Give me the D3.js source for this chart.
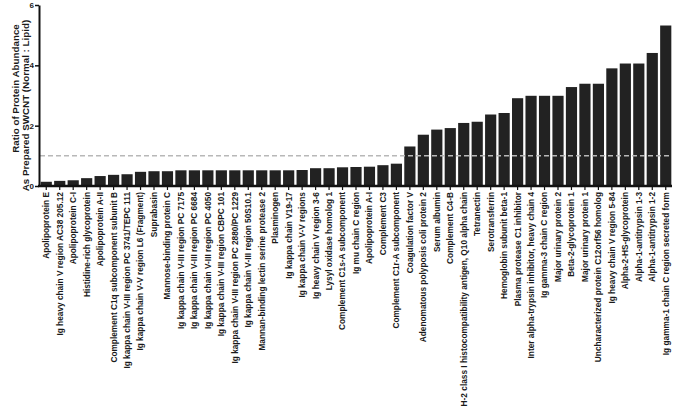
<!DOCTYPE html>
<html>
<head>
<meta charset="utf-8">
<script src="https://cdn.jsdelivr.net/npm/d3@7"></script>
<style>
  body { margin: 0; background: #ffffff; }
  svg { display: block; }
  .axis text { font-family: "Liberation Sans", Arial, sans-serif; font-weight: bold; fill: #1a1a1a; }
  .axis path, .axis line { stroke: #111; }
  .ytitle { font-family: "Liberation Sans", Arial, sans-serif; font-weight: bold; font-size: 9.8px; fill: #1a1a1a; }
</style>
</head>
<body>
<div id="chart"></div>
<script>
// proteiner, sorterade efter kvot
var proteins = [
    "Apolipoprotein E",
    "Ig heavy chain V region AC38 205.12",
    "Apolipoprotein C-I",
    "Histidine-rich glycoprotein",
    "Apolipoprotein A-II",
    "Complement C1q subcomponent subunit B",
    "Ig kappa chain V-III region PC 3741/TEPC 111",
    "Ig kappa chain V-V region L6 (Fragment)",
    "Suprabasin",
    "Mannose-binding protein C",
    "Ig kappa chain V-III region PC 7175",
    "Ig kappa chain V-III region PC 6684",
    "Ig kappa chain V-III region PC 4050",
    "Ig kappa chain V-III region CBPC 101",
    "Ig kappa chain V-III region PC 2880/PC 1229",
    "Ig kappa chain V-III region 50S10.1",
    "Mannan-binding lectin serine protease 2",
    "Plasminogen",
    "Ig kappa chain V19-17",
    "Ig kappa chain V-V regions",
    "Ig heavy chain V region 3-6",
    "Lysyl oxidase homolog 1",
    "Complement C1s-A subcomponent",
    "Ig mu chain C region",
    "Apolipoprotein A-I",
    "Complement C3",
    "Complement C1r-A subcomponent",
    "Coagulation factor V",
    "Adenomatous polyposis coli protein 2",
    "Serum albumin",
    "Complement C4-B",
    "H-2 class I histocompatibility antigen, Q10 alpha chain",
    "Tetranectin",
    "Serotransferrin",
    "Hemoglobin subunit beta-1",
    "Plasma protease C1 inhibitor",
    "Inter alpha-trypsin inhibitor, heavy chain 4",
    "Ig gamma-3 chain C region",
    "Major urinary protein 2",
    "Beta-2-glycoprotein 1",
    "Major urinary protein 1",
    "Uncharacterized protein C12orf56 homolog",
    "Ig heavy chain V region 5-84",
    "Alpha-2-HS-glycoprotein",
    "Alpha-1-antitrypsin 1-3",
    "Alpha-1-antitrypsin 1-2",
    "Ig gamma-1 chain C region secreted form"
];

// kvot normal : lipid
var ratios = [
    0.14, 0.17, 0.19, 0.26, 0.33, 0.37, 0.39, 0.47, 0.49, 0.49,
    0.52, 0.52, 0.52, 0.52, 0.52, 0.52, 0.52, 0.52, 0.52, 0.53,
    0.59, 0.59, 0.62, 0.63, 0.64, 0.69, 0.74, 1.31, 1.70, 1.87,
    1.92, 2.09, 2.13, 2.37, 2.42, 2.91, 2.99, 2.99, 2.99, 3.28,
    3.39, 3.39, 3.90, 4.06, 4.06, 4.41, 5.32
];

var yTicks = [0, 2, 4, 6];
var referenceLevel = [1];

var width = 675, height = 416;
var padding = { top: 5, right: 3, bottom: 230, left: 40 };

var data = proteins.map(function(p, i) { return { name: p, value: ratios[i] }; });

var svg = d3.select("#chart").append("svg")
    .attr("width", width)
    .attr("height", height);

var xScale = d3.scaleBand()
    .domain(proteins)
    .range([padding.left, width - padding.right])
    .paddingInner(0.17)
    .paddingOuter(0.05);

var yScale = d3.scaleLinear()
    .domain([0, 6])
    .range([height - padding.bottom, padding.top]);

// staplar
svg.append("g").selectAll("rect")
    .data(data)
    .enter().append("rect")
    .attr("x", function(d) { return xScale(d.name); })
    .attr("y", function(d) { return yScale(d.value); })
    .attr("width", xScale.bandwidth())
    .attr("height", function(d) { return yScale(0) - yScale(d.value); })
    .attr("fill", "#222222");

// streckad linje vid 1
svg.append("g").selectAll("line")
    .data(referenceLevel)
    .enter().append("line")
    .attr("x1", padding.left)
    .attr("x2", width - padding.right)
    .attr("y1", function(d) { return yScale(d); })
    .attr("y2", function(d) { return yScale(d); })
    .attr("stroke", "#b8b8b8")
    .attr("stroke-width", 1.5)
    .attr("stroke-dasharray", "5,3");

// y-titel, två rader
var midY = (yScale(0) + yScale(6)) / 2;
svg.append("text")
    .attr("class", "ytitle")
    .attr("transform", "translate(18.5," + (midY - 7) + ") rotate(-90)")
    .attr("text-anchor", "middle")
    .text("Ratio of Protein Abundance");
svg.append("text")
    .attr("class", "ytitle")
    .attr("transform", "translate(28.5," + (midY + 10) + ") rotate(-90)")
    .attr("text-anchor", "middle")
    .text("As Prepared SWCNT (Normal : Lipid)");

// y-axel
var yAxis = svg.append("g")
    .attr("class", "axis y-axis")
    .attr("transform", "translate(" + (padding.left - 1) + ",0)")
    .call(d3.axisLeft(yScale)
        .tickValues(yTicks)
        .tickFormat(d3.format("d"))
        .tickSize(4)
        .tickSizeOuter(0));
yAxis.select(".domain").attr("stroke-width", 2);
yAxis.selectAll(".tick line").attr("stroke-width", 1.5);
yAxis.selectAll("text").style("font-size", "8px").attr("x", -5);

// x-axel
var xAxis = svg.append("g")
    .attr("class", "axis x-axis")
    .attr("transform", "translate(0," + yScale(0) + ")")
    .call(d3.axisBottom(xScale).tickSize(4).tickSizeOuter(0));
xAxis.select(".domain").attr("stroke-width", 2.5)
    .attr("d", "M" + (padding.left - 2) + ",0H" + (width - padding.right));
xAxis.selectAll(".tick line").attr("stroke-width", 1.2);
xAxis.selectAll("text")
    .style("font-size", "8.3px")
    .attr("transform", "rotate(-90)")
    .attr("text-anchor", "end")
    .attr("x", -6)
    .attr("y", 0)
    .attr("dy", "0.35em");
</script>
</body>
</html>
